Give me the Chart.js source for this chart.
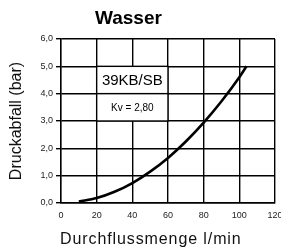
<!DOCTYPE html>
<html><head><meta charset="utf-8">
<script src="https://cdn.jsdelivr.net/npm/chart.js@4/dist/chart.umd.min.js"></script>
<style>html,body{margin:0;padding:0;background:#fff}#wrap{position:relative;width:281px;height:249px}</style>
</head><body><div id="wrap"><canvas id="c" width="281" height="249"></canvas></div>
<script>
const flow = [10, 20, 30, 40, 50, 60, 70, 80, 90, 100, 104];
const pressure = [0.05, 0.18, 0.41, 0.73, 1.15, 1.65, 2.25, 2.94, 3.72, 4.6, 5.0];
const xTicks = [0, 20, 40, 60, 80, 100, 120];
const yTicks = [0, 1, 2, 3, 4, 5, 6];
const chartTitle = 'Wasser';
const yTitle = 'Druckabfall (bar)';
const xTitle = 'Durchflussmenge l/min';
const modelLabel = '39KB/SB';
const kvLabel = 'Kv = 2,80';
const boxX = [20, 60];
const boxY = [[4, 5], [3, 4]];

const FONT = '"Liberation Sans", Arial, sans-serif';

const overlay = {
  id: 'overlay',
  afterDatasetsDraw(chart) {
    const {ctx, scales: {x, y}} = chart;
    ctx.save();
    const texts = [modelLabel, kvLabel];
    const sizes = [15, 10];
    boxY.forEach((r, i) => {
      const l = x.getPixelForValue(boxX[0]), rr = x.getPixelForValue(boxX[1]);
      const t = y.getPixelForValue(r[1]), b = y.getPixelForValue(r[0]);
      ctx.fillStyle = '#fff';
      ctx.fillRect(l, t, rr - l, b - t);
      ctx.strokeStyle = '#000';
      ctx.lineWidth = 1.4;
      ctx.strokeRect(l, t, rr - l, b - t);
      ctx.fillStyle = '#000';
      ctx.font = sizes[i] + 'px ' + FONT;
      ctx.textAlign = 'center';
      ctx.textBaseline = 'middle';
      ctx.fillText(texts[i], (l + rr) / 2, (t + b) / 2 + 1);
    });
    ctx.restore();
  },
  afterDraw(chart) {
    const {ctx, chartArea} = chart;
    ctx.save();
    ctx.fillStyle = '#000';
    ctx.font = 'bold 19px ' + FONT;
    ctx.textAlign = 'left';
    ctx.textBaseline = 'middle';
    ctx.fillText(chartTitle, 95, 19);
    ctx.fillStyle = '#111';
    ctx.font = '16px ' + FONT;
    ctx.textAlign = 'left';
    ctx.letterSpacing = '0.9px';
    ctx.fillText(xTitle, 60, 240);
    ctx.letterSpacing = '0px';
    ctx.textAlign = 'center';
    ctx.translate(17, (chartArea.top + chartArea.bottom) / 2);
    ctx.rotate(-Math.PI / 2);
    ctx.fillText(yTitle, 0, 0);
    ctx.restore();
  }
};

new Chart(document.getElementById('c'), {
  type: 'line',
  data: {
    datasets: [{
      data: flow.map((v, i) => ({x: v, y: pressure[i]})),
      borderColor: '#000',
      borderWidth: 2.6,
      pointRadius: 0,
      tension: 0.4,
      cubicInterpolationMode: 'monotone',
      fill: false
    }]
  },
  options: {
    responsive: false,
    animation: false,
    layout: {padding: {left: 0, top: 39, right: 6, bottom: 0}},
    plugins: {legend: {display: false}, tooltip: {enabled: false}, title: {display: false}},
    scales: {
      x: {
        type: 'linear', min: 0, max: 120,
        afterBuildTicks: s => { s.ticks = xTicks.map(v => ({value: v})); },
        afterFit: s => { s.height = 46; s.paddingLeft = 0; s.paddingRight = 0; },
        grid: {color: '#000', lineWidth: 1.4, drawTicks: false},
        border: {color: '#000', width: 1.4},
        ticks: {color: '#222', font: {size: 9, family: FONT}, padding: 7, maxRotation: 0, autoSkip: false,
          callback: v => String(v)}
      },
      y: {
        type: 'linear', min: 0, max: 6,
        afterBuildTicks: s => { s.ticks = yTicks.map(v => ({value: v})); },
        afterFit: s => { s.width = 61; s.paddingTop = 0; s.paddingBottom = 0; },
        grid: {color: '#000', lineWidth: 1.4, tickLength: 5},
        border: {color: '#000', width: 1.4},
        ticks: {color: '#222', font: {size: 9, family: FONT}, padding: 3, autoSkip: false,
          callback: v => v.toFixed(1).replace('.', ',')}
      }
    }
  },
  plugins: [overlay]
});
</script></body></html>
